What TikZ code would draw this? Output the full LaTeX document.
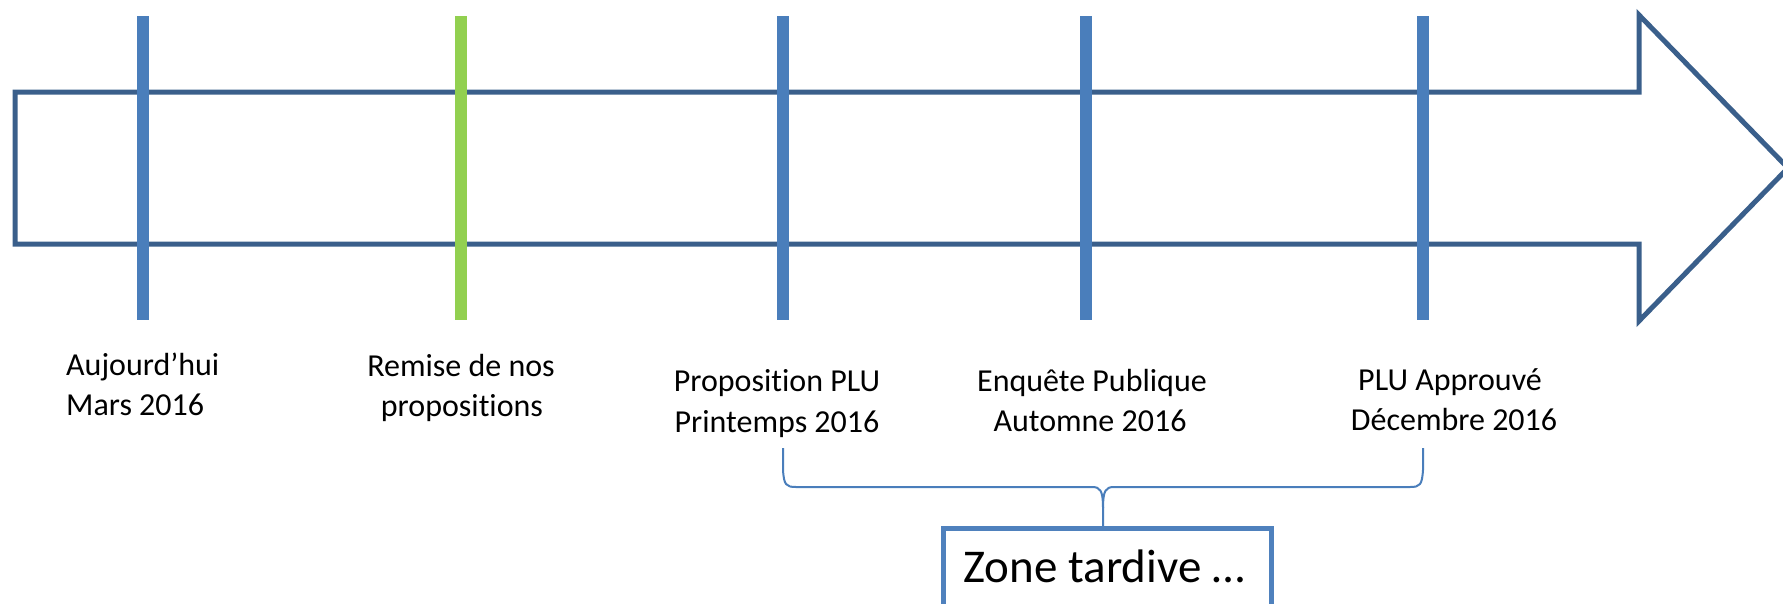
\documentclass[tikz,border=0pt]{standalone}
\usepackage{fontspec}
\setmainfont[Ligatures={NoCommon}]{Carlito}
\definecolor{arrowc}{HTML}{3A5F8B}
\definecolor{tickc}{HTML}{4A7EBB}
\definecolor{greenc}{HTML}{92D050}
\definecolor{boxc}{HTML}{4F81BD}
\begin{document}
\begin{tikzpicture}[x=1pt,y=-1pt,
  tick/.style={line width=12pt,color=tickc},
  gtick/.style={line width=12pt,color=greenc},
  lbl/.style={inner sep=0pt,anchor=base,font=\fontsize{32}{40}\selectfont},
  lbll/.style={lbl,anchor=base west},
  bracec/.style={line width=2pt,color=tickc}]
\useasboundingbox (0,0) rectangle (1783,603);
% big arrow
\draw[line width=5pt,color=arrowc,miter limit=10]
  (15,92) -- (1639,92) -- (1639,15) -- (1788,168) -- (1639,321) -- (1639,244) -- (15,244) -- cycle;
% ticks
\coordinate (t1a) at (143,16); \coordinate (t1b) at (143,320);
\coordinate (t2a) at (461,16); \coordinate (t2b) at (461,320);
\coordinate (t3a) at (783,16); \coordinate (t3b) at (783,320);
\coordinate (t4a) at (1086,16); \coordinate (t4b) at (1086,320);
\coordinate (t5a) at (1423,16); \coordinate (t5b) at (1423,320);
\draw[tick] (t1a) -- (t1b);
\draw[gtick] (t2a) -- (t2b);
\draw[tick] (t3a) -- (t3b);
\draw[tick] (t4a) -- (t4b);
\draw[tick] (t5a) -- (t5b);
% labels
\node[lbll] (a1) at (66,375) {Aujourd’hui};
\node[lbll] (a2) at (66,415) {Mars 2016};
\node[lbl] (b1) at (461,376) {Remise de nos};
\node[lbl] (b2) at (462,416) {propositions};
\node[lbl] (c1) at (777,391) {Proposition PLU};
\node[lbl] (c2) at (777,432) {Printemps 2016};
\node[lbl] (d1) at (1092,391) {Enquête Publique};
\node[lbl] (d2) at (1090,431) {Automne 2016};
\node[lbl] (e1) at (1450,390) {PLU Approuvé};
\node[lbl] (e2) at (1454,430) {Décembre 2016};
% brace
\coordinate (bl) at (783,448);
\coordinate (br) at (1423,448);
\coordinate (bm) at (1103,527);
\draw[bracec] (bl) -- (783,470) .. controls (784,485) and (786,487) .. (796,487)
  -- (1092,487) .. controls (1100,487) and (1103,490) .. (1103,508) -- (bm);
\draw[bracec] (br) -- (1423,470) .. controls (1422,485) and (1420,487) .. (1410,487)
  -- (1114,487) .. controls (1106,487) and (1103,490) .. (1103,508);
% box
\draw[line width=5pt,color=boxc,fill=white] (943,528) rectangle (1271,650);
\node[inner sep=0pt,anchor=base,font=\fontsize{47}{56}\selectfont] (z) at (1104,582) {Zone tardive …};
\end{tikzpicture}
\end{document}
